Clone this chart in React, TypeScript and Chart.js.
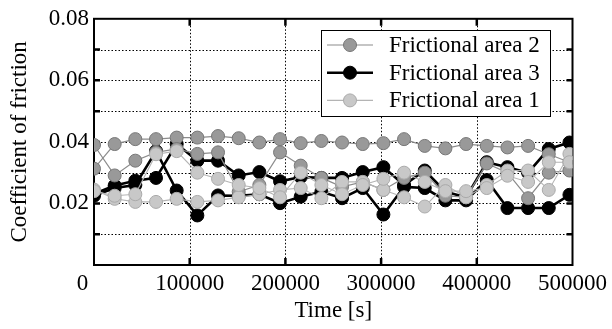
import React, { useEffect, useRef } from 'react';
import { Chart, registerables } from 'chart.js';

Chart.register(...registerables);

// Time stamps [s]
const times = [
  0, 21600, 43200, 64800, 86400, 108000, 129600, 151200, 172800, 194400, 216000, 237600,
  259200, 280800, 302400, 324000, 345600, 367200, 388800, 410400, 432000, 453600, 475200, 496800,
];

// Frictional area 2 (two runs)
const area2a = [0.0313, 0.0393, 0.0409, 0.0409, 0.0414, 0.0414, 0.0419, 0.0412, 0.0398, 0.0409, 0.0396, 0.0403, 0.0398, 0.0393, 0.0396, 0.0409, 0.0387, 0.0379, 0.0393, 0.0387, 0.0382, 0.0387, 0.036, 0.0334];
const area2b = [0.039, 0.0291, 0.0339, 0.0366, 0.0377, 0.0361, 0.0366, 0.0238, 0.026, 0.0366, 0.0323, 0.0283, 0.0254, 0.027, 0.0244, 0.0283, 0.03, 0.0225, 0.022, 0.033, 0.03, 0.0217, 0.03, 0.0307];
// Frictional area 3 (two runs)
const area3a = [0.0231, 0.0258, 0.0274, 0.0283, 0.0393, 0.0339, 0.0339, 0.0291, 0.0302, 0.0272, 0.0286, 0.0283, 0.0283, 0.0302, 0.0318, 0.026, 0.0307, 0.0238, 0.022, 0.0334, 0.0318, 0.03, 0.0377, 0.0398];
const area3b = [0.0225, 0.025, 0.026, 0.037, 0.0242, 0.0161, 0.0226, 0.0225, 0.023, 0.0201, 0.0222, 0.0238, 0.0217, 0.025, 0.0164, 0.0254, 0.025, 0.021, 0.021, 0.0276, 0.0185, 0.0185, 0.0185, 0.0228];
// Frictional area 1 (two runs)
const area1a = [0.0245, 0.0215, 0.0205, 0.0205, 0.0215, 0.0205, 0.021, 0.022, 0.023, 0.0244, 0.025, 0.0217, 0.027, 0.027, 0.0244, 0.022, 0.019, 0.026, 0.022, 0.026, 0.0307, 0.0307, 0.0244, 0.0361];
const area1b = [0.024, 0.0225, 0.023, 0.036, 0.037, 0.03, 0.028, 0.026, 0.025, 0.022, 0.03, 0.026, 0.023, 0.026, 0.028, 0.03, 0.027, 0.024, 0.024, 0.025, 0.029, 0.027, 0.0334, 0.0334];

const legendNames = ['Frictional area 2', 'Frictional area 3', 'Frictional area 1'];
const xTitle = 'Time [s]';
const yTitle = 'Coefficient of friction';

const FONT = '"Liberation Serif", "Times New Roman", serif';

const styles = {
  area2: { line: '#8c8c8c', lineWidth: 1.2, fill: '#999999', stroke: '#777777' },
  area3: { line: '#000000', lineWidth: 2.6, fill: '#000000', stroke: '#000000' },
  area1: { line: '#b4b4b4', lineWidth: 1.1, fill: '#c8c8c8', stroke: '#aaaaaa' },
};

function toPoints(vals: number[]) {
  return vals.map((v, i) => ({ x: times[i], y: v }));
}

function ds(label: string, vals: number[], st: any) {
  return {
    label,
    data: toPoints(vals),
    borderColor: st.line,
    borderWidth: st.lineWidth,
    pointBackgroundColor: st.fill,
    pointBorderColor: st.stroke,
    pointBorderWidth: 1,
    pointRadius: 6.5,
    pointHoverRadius: 6.5,
    tension: 0,
    fill: false,
  };
}

const framePlugin = {
  id: 'frame',
  beforeDatasetsDraw(chart: any) {
    const { ctx, chartArea } = chart;
    const { left, right, top, bottom } = chartArea;
    const xs = chart.scales.x;
    const ys = chart.scales.y;
    ctx.save();
    ctx.strokeStyle = '#000';
    ctx.lineWidth = 1;
    ctx.setLineDash([1.5, 2]);
    ys.ticks.forEach((t: any) => {
      const py = Math.round(ys.getPixelForValue(t.value)) + 0.5;
      if (py <= top + 2 || py >= bottom - 2) return;
      ctx.beginPath();
      ctx.moveTo(left, py);
      ctx.lineTo(right, py);
      ctx.stroke();
    });
    xs.ticks.forEach((t: any) => {
      const px = Math.round(xs.getPixelForValue(t.value)) + 0.5;
      if (px <= left + 2 || px >= right - 2) return;
      ctx.beginPath();
      ctx.moveTo(px, top);
      ctx.lineTo(px, bottom);
      ctx.stroke();
    });
    ctx.setLineDash([]);
    ctx.lineWidth = 2.5;
    ys.ticks.forEach((t: any) => {
      const py = ys.getPixelForValue(t.value);
      if (py <= top + 2 || py >= bottom - 2) return;
      ctx.beginPath();
      ctx.moveTo(left, py);
      ctx.lineTo(left + 6, py);
      ctx.moveTo(right, py);
      ctx.lineTo(right - 6, py);
      ctx.stroke();
    });
    xs.ticks.forEach((t: any) => {
      const px = xs.getPixelForValue(t.value);
      if (px <= left + 2 || px >= right - 2) return;
      ctx.beginPath();
      ctx.moveTo(px, bottom);
      ctx.lineTo(px, bottom - 7);
      ctx.moveTo(px, top);
      ctx.lineTo(px, top + 7);
      ctx.stroke();
    });
    ctx.lineWidth = 2;
    ctx.strokeRect(left, top, right - left, bottom - top);
    ctx.restore();
  },
};

const legendPlugin = {
  id: 'boxLegend',
  afterDraw(chart: any) {
    const { ctx } = chart;
    const bx = 321.5, by = 30.5, bw = 229, bh = 86;
    ctx.save();
    ctx.fillStyle = '#fff';
    ctx.fillRect(bx, by, bw, bh);
    ctx.strokeStyle = '#000';
    ctx.lineWidth = 1;
    ctx.strokeRect(bx, by, bw, bh);
    const entries = [styles.area2, styles.area3, styles.area1];
    entries.forEach((st, k) => {
      const cy = by + 14.5 + k * 27.7;
      ctx.strokeStyle = st.line;
      ctx.lineWidth = st.lineWidth;
      ctx.beginPath();
      ctx.moveTo(327, cy);
      ctx.lineTo(373, cy);
      ctx.stroke();
      ctx.beginPath();
      ctx.arc(350, cy, 6.5, 0, Math.PI * 2);
      ctx.fillStyle = st.fill;
      ctx.fill();
      ctx.strokeStyle = st.stroke;
      ctx.lineWidth = 1;
      ctx.stroke();
      ctx.fillStyle = '#000';
      ctx.font = '23px ' + FONT;
      ctx.textBaseline = 'middle';
      ctx.textAlign = 'left';
      ctx.fillText(legendNames[k], 389, cy + 1);
    });
    ctx.restore();
  },
};

export default function App() {
  const ref = useRef<HTMLCanvasElement | null>(null);
  useEffect(() => {
    if (!ref.current) return;
    const chart = new Chart(ref.current, {
      type: 'line',
      data: {
        datasets: [
          ds(legendNames[2] + ' (b)', area1b, styles.area1),
          ds(legendNames[2], area1a, styles.area1),
          ds(legendNames[0] + ' (b)', area2b, styles.area2),
          ds(legendNames[0], area2a, styles.area2),
          ds(legendNames[1] + ' (b)', area3b, styles.area3),
          ds(legendNames[1], area3a, styles.area3),
        ],
      },
      options: {
        animation: false,
        responsive: true,
        maintainAspectRatio: false,
        layout: { padding: { left: 0, top: 17, right: 39, bottom: 0 } },
        plugins: { legend: { display: false }, tooltip: { enabled: false } },
        scales: {
          x: {
            type: 'linear',
            min: 0,
            max: 500000,
            grid: { display: false, drawTicks: false },
            border: { display: false },
            ticks: {
              stepSize: 100000,
              maxRotation: 0,
              autoSkip: false,
              padding: 5,
              color: '#000',
              font: { family: FONT, size: 23 },
              callback: (v: any) => (v === 0 ? '0\u2002\u2002' : String(v)),
            },
            title: {
              display: true,
              text: xTitle,
              color: '#000',
              font: { family: FONT, size: 23 },
              padding: { top: 0, bottom: 4 },
            },
            afterFit: (s: any) => { s.height = 64; },
          },
          y: {
            min: 0,
            max: 0.08,
            grid: { display: false, drawTicks: false },
            border: { display: false },
            ticks: {
              stepSize: 0.01,
              autoSkip: false,
              padding: 5,
              color: '#000',
              font: { family: FONT, size: 23 },
              callback: (v: any) => {
                const n = Math.round(v * 100);
                return n > 0 && n % 2 === 0 ? (n / 100).toFixed(2) : '';
              },
            },
            title: {
              display: true,
              text: yTitle,
              color: '#000',
              font: { family: FONT, size: 23 },
              padding: { top: 6, bottom: 0 },
            },
            afterFit: (s: any) => { s.width = 94; },
          },
        },
      },
      plugins: [framePlugin, legendPlugin],
    });
    return () => chart.destroy();
  }, []);
  return (
    <div style={{ position: 'absolute', left: 0, top: 0, width: 612, height: 329, background: '#fff' }}>
      <canvas ref={ref} />
    </div>
  );
}
